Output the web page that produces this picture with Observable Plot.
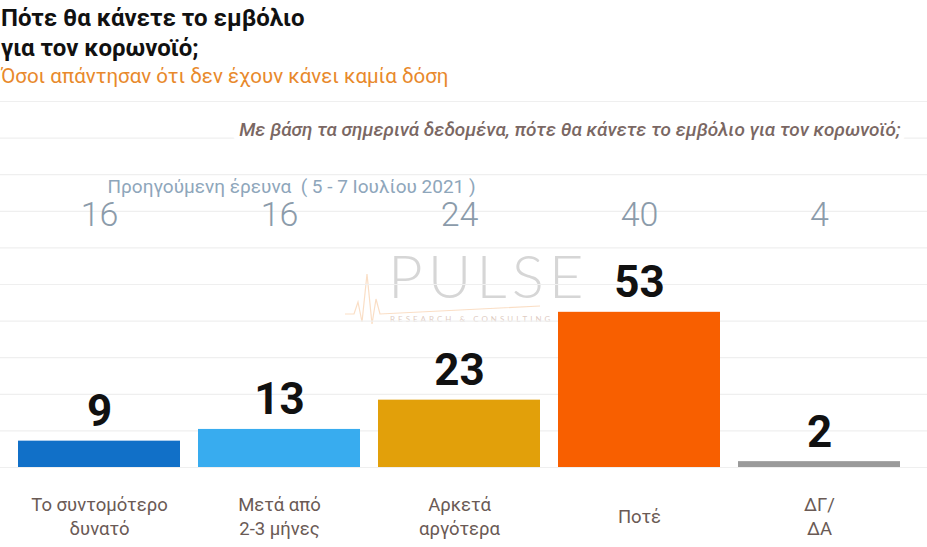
<!DOCTYPE html>
<html>
<head>
<meta charset="utf-8">
<script src="https://cdn.jsdelivr.net/npm/d3@7"></script>
<script src="https://cdn.jsdelivr.net/npm/@observablehq/plot@0.6"></script>
<style>
  html, body { margin: 0; padding: 0; background: #fff; width: 927px; height: 547px; overflow: hidden; }
  #wrap { position: relative; width: 927px; height: 547px; }
  #header { position: relative; height: 92px; margin-left: 1px; font-family: Roboto, "Noto Sans", sans-serif; }
  #title { font-size: 24px; font-weight: 700; color: #111; line-height: 30px; padding-top: 3px; }
  #subtitle { font-size: 20.5px; color: #e8892b; line-height: 27px; }
  #watermark { position: absolute; left: 340px; top: 244px; width: 250px; height: 90px; font-family: Lato, Roboto, sans-serif; z-index: 0; }
  #watermark .big { position: absolute; left: 48px; top: 0; font-size: 60px; font-weight: 300; letter-spacing: 5px; line-height: 62px; color: rgba(165,165,165,0.45); }
  #watermark .small { position: absolute; left: 50px; top: 70px; font-size: 8px; letter-spacing: 3px; color: rgba(190,150,130,0.5); white-space: nowrap; }
  #watermark svg { position: absolute; left: 0; top: 0; }
  #chart { position: relative; z-index: 1; }
</style>
</head>
<body>
<div id="wrap">
  <div id="header">
    <div id="title">Πότε θα κάνετε το εμβόλιο<br>για τον κορωνοϊό;</div>
    <div id="subtitle">Όσοι απάντησαν ότι δεν έχουν κάνει καμία δόση</div>
  </div>
  <div id="watermark">
    <svg width="250" height="90"><polyline points="5,70 14,70 18,58 22,78 27,30 32,80 36,55 40,70 200,62" fill="none" stroke="rgba(240,160,90,0.35)" stroke-width="1.2"/></svg>
    <div class="big">PULSE</div><div class="small">RESEARCH &amp; CONSULTING</div>
  </div>
  <div id="chart"></div>
</div>
<script>
const categories = ["Το συντομότερο δυνατό", "Μετά από 2-3 μήνες", "Αρκετά αργότερα", "Ποτέ", "ΔΓ/ΔΑ"];
const tickLabels = ["Το συντομότερο\nδυνατό", "Μετά από\n2-3 μήνες", "Αρκετά\nαργότερα", "Ποτέ", "ΔΓ/\nΔΑ"];
const currentValues = [9, 13, 23, 53, 2];
const previousValues = [16, 16, 24, 40, 4];
const barColors = ["#1170c8", "#38acef", "#e2a00a", "#f85f00", "#9a9a9a"];
const gridTicks = [0, 12.5, 25, 37.5, 50, 62.5, 75, 87.5, 100, 112.5, 125];
const questionText = "Με βάση τα σημερινά δεδομένα, πότε θα κάνετε το εμβόλιο για τον κορωνοϊό;";
const previousLabel = "Προηγούμενη έρευνα  ( 5 - 7 Ιουλίου 2021 )";

const rows = categories.map((c, i) => ({
  category: c, label: tickLabels[i], value: currentValues[i], previous: previousValues[i], color: barColors[i]
}));

const chart = Plot.plot({
  width: 927,
  height: 455,
  marginTop: 9,
  marginBottom: 80,
  marginLeft: 8,
  marginRight: 17,
  style: { background: "transparent", fontFamily: "Roboto, 'Noto Sans', sans-serif" },
  x: { domain: categories, paddingInner: 0.1, paddingOuter: 0.05, axis: null },
  y: { domain: [0, 125], axis: null },
  color: { type: "identity" },
  marks: [
    Plot.ruleY(gridTicks, { stroke: "#efefef", strokeWidth: 1.2, insetLeft: -8, insetRight: -17 }),
    Plot.barY(rows, { x: "category", y: "value", fill: "color" }),
    Plot.text(rows, {
      x: "category", y: "value", text: d => String(d.value),
      lineAnchor: "bottom", dy: -15, fontSize: 44, fontWeight: 700, fill: "#111"
    }),
    Plot.text(rows, {
      x: "category", frameAnchor: "top", text: d => String(d.previous),
      lineAnchor: "middle", dy: 114, fontSize: 34, fontWeight: 300, fill: "#8b9baa"
    }),
    Plot.text([previousLabel], {
      frameAnchor: "top-left", text: d => d, textAnchor: "start",
      lineAnchor: "middle", dx: 99, dy: 85, fontSize: 19, fill: "#8ea6bb"
    }),
    Plot.text([questionText], {
      frameAnchor: "top-right", text: d => d, textAnchor: "end",
      lineAnchor: "middle", dx: -10, dy: 28, fontSize: 19, fontStyle: "italic", fontWeight: 500,
      fill: "#7a6763", stroke: "white", strokeWidth: 12, paintOrder: "stroke"
    }),
    Plot.text(rows, {
      x: "category", frameAnchor: "bottom", text: "label",
      lineAnchor: "middle", lineHeight: 1.3, dy: 48, fontSize: 18.5, fill: "#6a5a55"
    })
  ]
});
document.getElementById("chart").appendChild(chart);
</script>
</body>
</html>
